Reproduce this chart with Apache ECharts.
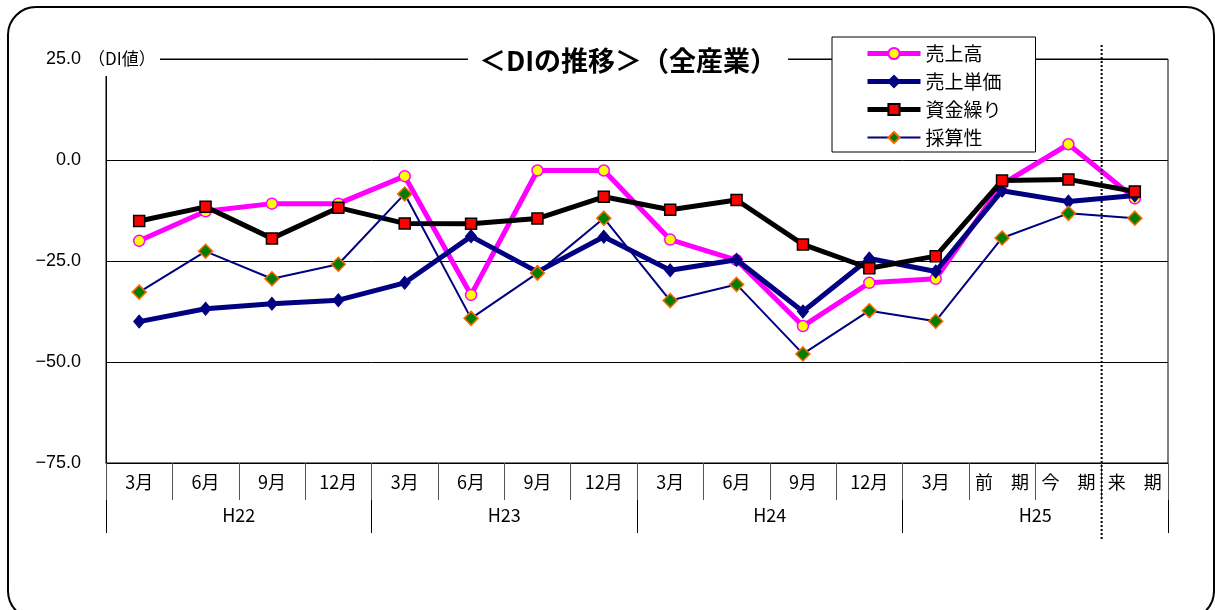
<!DOCTYPE html>
<html>
<head>
<meta charset="utf-8">
<title>DIの推移</title>
<script src="https://cdn.jsdelivr.net/npm/echarts/dist/echarts.min.js"></script>
<style>
  html, body { margin: 0; padding: 0; background: #fff; }
  #chart { width: 1215px; height: 610px; }
</style>
</head>
<body>
<div id="chart"></div>
<script>
// カテゴリ（月・期）と年度
var months = ['3月', '6月', '9月', '12月', '3月', '6月', '9月', '12月', '3月', '6月', '9月', '12月', '3月', '前　期', '今　期', '来　期'];
var years = ['H22', 'H23', 'H24', 'H25'];
var yTicks = [-75, -50, -25, 0, 25];

// 各DI値
var sales = [-20.0, -12.7, -10.8, -10.8, -4.0, -33.4, -2.6, -2.6, -19.7, -24.8, -41.1, -30.4, -29.4, -6.0, 3.9, -9.5];
var unitPrice = [-40.0, -36.8, -35.6, -34.7, -30.4, -18.9, -27.7, -19.0, -27.3, -24.7, -37.5, -24.4, -27.6, -7.6, -10.3, -8.8];
var cashFlow = [-15.1, -11.6, -19.4, -11.8, -15.7, -15.8, -14.5, -9.1, -12.3, -9.9, -20.9, -26.8, -23.8, -5.1, -4.8, -7.8];
var profit = [-32.7, -22.6, -29.4, -25.8, -8.4, -39.2, -28.0, -14.4, -34.8, -30.8, -48.0, -37.3, -39.9, -19.3, -13.2, -14.4];

var jp = '"Noto Sans CJK JP", sans-serif';
var num = '"Liberation Sans", Arial, sans-serif';

var chart = echarts.init(document.getElementById('chart'));

var option = {
  backgroundColor: '#fff',
  animation: false,
  legend: {
    orient: 'vertical',
    left: 832,
    top: 37,
    backgroundColor: '#fff',
    borderColor: '#000',
    borderWidth: 1,
    padding: [7, 34, 5, 33],
    itemWidth: 53,
    itemHeight: 14,
    itemGap: 9,
    z: 10,
    textStyle: { fontSize: 19, lineHeight: 19, color: '#000', fontFamily: jp },
    data: [
      { name: '売上高', lineStyle: { width: 5 } },
      { name: '売上単価', lineStyle: { width: 5 } },
      { name: '資金繰り', lineStyle: { width: 5 } },
      { name: '採算性', lineStyle: { width: 2 } }
    ]
  },
  grid: {
    left: 106,
    right: 47,
    top: 59,
    bottom: 147,
    show: true,
    borderColor: '#000',
    borderWidth: 1
  },
  xAxis: [{
    type: 'category',
    data: months,
    boundaryGap: true,
    axisLine: { onZero: false, lineStyle: { color: '#000', width: 1 } },
    axisTick: { show: true, interval: 0, length: 37, lineStyle: { color: '#555' } },
    axisLabel: { interval: 0, margin: 10, fontSize: 18, color: '#000', fontFamily: jp }
  }, {
    type: 'category',
    data: years,
    position: 'bottom',
    offset: 37,
    boundaryGap: true,
    axisLine: { show: false, onZero: false },
    axisTick: { show: true, interval: 0, length: 33, lineStyle: { color: '#000' } },
    axisLabel: { interval: 0, margin: 6, fontSize: 18, color: '#000', fontFamily: jp }
  }],
  yAxis: {
    type: 'value',
    min: yTicks[0],
    max: yTicks[yTicks.length - 1],
    interval: 25,
    axisLine: { show: true, lineStyle: { color: '#000' } },
    axisTick: { show: false },
    splitLine: { lineStyle: { color: '#000', width: 1 } },
    axisLabel: {
      margin: 25,
      fontSize: 18,
      color: '#000',
      fontFamily: num,
      formatter: function (v) { return v.toFixed(1).replace('-', '−'); }
    }
  },
  series: [{
    name: '売上高',
    type: 'line',
    z: 2,
    data: sales,
    symbol: 'circle',
    symbolSize: 11,
    lineStyle: { color: '#ff00ff', width: 5 },
    itemStyle: { color: '#ffff00', borderColor: '#ff00ff', borderWidth: 1.5 }
  }, {
    name: '売上単価',
    type: 'line',
    z: 3,
    data: unitPrice,
    symbol: 'diamond',
    symbolSize: [11, 13],
    lineStyle: { color: '#000080', width: 5 },
    itemStyle: { color: '#000080', borderColor: '#000080', borderWidth: 1 }
  }, {
    name: '資金繰り',
    type: 'line',
    z: 4,
    data: cashFlow,
    symbol: 'rect',
    symbolSize: 11,
    lineStyle: { color: '#000', width: 5 },
    itemStyle: { color: '#ff0000', borderColor: '#000', borderWidth: 1.5 }
  }, {
    name: '採算性',
    type: 'line',
    z: 5,
    data: profit,
    symbol: 'diamond',
    symbolSize: 14,
    lineStyle: { color: '#000080', width: 2 },
    itemStyle: { color: '#008000', borderColor: '#ff6600', borderWidth: 1.5 }
  }]
};
chart.setOption(option);

// 今期と来期の間の点線（軸の座標から位置を求める）
var x14 = chart.convertToPixel({ xAxisIndex: 0 }, 14);
var x15 = chart.convertToPixel({ xAxisIndex: 0 }, 15);
var sepX = (x14 + x15) / 2;

chart.setOption({
  graphic: [{
    type: 'rect',
    z: 0,
    silent: true,
    shape: { x: 8, y: 7, width: 1206, height: 612, r: 28 },
    style: { fill: 'none', stroke: '#000', lineWidth: 2 }
  }, {
    type: 'line',
    z: 20,
    silent: true,
    shape: { x1: sepX, y1: 45, x2: sepX, y2: 541 },
    style: { stroke: '#000', lineWidth: 2, lineDash: [2, 2] }
  }, {
    type: 'rect',
    z: 20,
    silent: true,
    shape: { x: 86, y: 44, width: 74, height: 32 },
    style: { fill: '#fff' }
  }, {
    type: 'text',
    z: 21,
    silent: true,
    style: {
      x: 88, y: 59,
      text: '（DI値）',
      font: '17px ' + jp,
      fill: '#000',
      verticalAlign: 'middle'
    }
  }, {
    type: 'text',
    z: 21,
    silent: true,
    style: {
      x: 628, y: 61,
      text: '＜DIの推移＞（全産業）',
      font: 'bold 27px ' + jp,
      fill: '#000',
      align: 'center',
      verticalAlign: 'middle',
      backgroundColor: '#fff',
      padding: [2, 11]
    }
  }]
});
</script>
</body>
</html>
